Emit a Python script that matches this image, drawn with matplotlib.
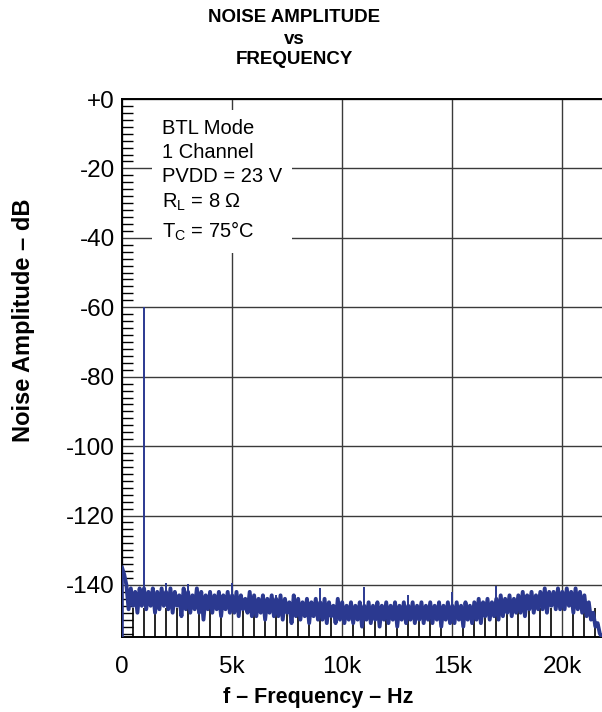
import numpy as np
import matplotlib.pyplot as plt
from matplotlib.ticker import MultipleLocator

plt.rcParams['font.family'] = ['Liberation Sans', 'DejaVu Sans']
plt.rcParams['mathtext.default'] = 'regular'

# noise floor, one value every 100 Hz from 0 to 21.8 kHz
noise_db = [
    -135, -137, -140, -147, -141, -146, -142, -148, -141, -146,
    -141, -147, -142, -146, -141, -148, -142, -147, -141, -146,
    -142, -147, -141, -148, -142, -146, -143, -149, -141, -147,
    -142, -148, -143, -147, -141, -148, -142, -150, -143, -147,
    -142, -148, -143, -147, -142, -149, -143, -147, -142, -148,
    -143, -148, -142, -149, -143, -147, -144, -148, -142, -149,
    -143, -149, -144, -148, -143, -150, -144, -148, -143, -149,
    -144, -149, -143, -150, -144, -148, -145, -151, -143, -149,
    -144, -150, -145, -149, -144, -151, -145, -149, -144, -150,
    -145, -150, -144, -151, -145, -149, -146, -151, -144, -150,
    -145, -151, -146, -150, -145, -151, -146, -150, -145, -152,
    -146, -150, -145, -151, -146, -150, -145, -152, -146, -150,
    -145, -151, -146, -150, -145, -152, -146, -150, -145, -151,
    -146, -150, -145, -151, -146, -150, -145, -151, -146, -150,
    -145, -151, -146, -150, -145, -152, -146, -150, -145, -151,
    -146, -151, -145, -150, -146, -152, -145, -150, -146, -151,
    -145, -150, -144, -151, -145, -149, -144, -150, -145, -149,
    -144, -150, -143, -149, -144, -148, -143, -149, -144, -148,
    -143, -148, -142, -149, -143, -147, -142, -148, -143, -147,
    -142, -147, -141, -148, -142, -146, -142, -147, -141, -147,
    -142, -147, -141, -146, -142, -148, -141, -147, -142, -148,
    -143, -149, -145, -150, -148, -152, -151, -154, -155,
]
noise_freq = np.arange(len(noise_db)) * 100

# tones / spurs sticking out of the floor
spike_freq = [1000, 2000, 3000, 5000, 7000, 9000, 11000, 13000, 15000, 17000, 19000]
spike_db = [-60, -139.5, -139.7, -139.5, -143, -141, -140.5, -143, -142, -140.3, -142]

xticks = [0, 5000, 10000, 15000, 20000]
xlabels = ['0', '5k', '10k', '15k', '20k']
yticks = [0, -20, -40, -60, -80, -100, -120, -140]
ylabels = ['+0', '-20', '-40', '-60', '-80', '-100', '-120', '-140']

blue = '#2b3990'

fig = plt.figure(figsize=(6.02, 7.12), dpi=100)
ax = fig.add_axes([122 / 602, 1 - 637 / 712, 480 / 602, 538 / 712])

ax.plot(noise_freq, noise_db, color=blue, lw=2.8, zorder=3)
base = [noise_db[f // 100] for f in spike_freq]
ax.vlines(spike_freq, base, spike_db, color=blue, lw=1.4, zorder=3)
ax.vlines([0], [-155], [noise_db[0]], color=blue, lw=1.8, zorder=3)

ax.set_xlim(0, 21800)
ax.set_ylim(-155, 0)
ax.set_xticks(xticks)
ax.set_xticklabels(xlabels)
ax.set_yticks(yticks)
ax.set_yticklabels(ylabels)
ax.xaxis.set_minor_locator(MultipleLocator(500))
ax.yaxis.set_minor_locator(MultipleLocator(2))
ax.tick_params(which='major', length=0, labelsize=17.5)
ax.tick_params(axis='x', which='major', pad=14)
ax.tick_params(axis='y', which='major', pad=5)
ax.tick_params(axis='x', which='minor', direction='in', length=21, width=1.2, color='black')
ax.tick_params(axis='y', which='minor', direction='in', length=8, width=1.0, color='black')
ax.grid(True, which='major', color='#3a3a3a', lw=1.0)
ax.spines['right'].set_visible(False)
for s in ['left', 'bottom', 'top']:
    ax.spines[s].set_linewidth(1.4)

ax.text(40 / 480, 1 - 20 / 538,
        'BTL Mode\n1 Channel\nPVDD = 23 V\nR$_L$ = 8 \u03a9\nT$_C$ = 75\u00b0C',
        transform=ax.transAxes, ha='left', va='top', fontsize=14.5, linespacing=1.35,
        zorder=4, bbox=dict(boxstyle='square,pad=0.5', facecolor='white', edgecolor='none'))

fig.text(294 / 602, 1 - 18 / 712, 'NOISE AMPLITUDE', ha='center', va='center',
         fontsize=13.5, fontweight='bold')
fig.text(294 / 602, 1 - 39 / 712, 'vs', ha='center', va='center',
         fontsize=13.5, fontweight='bold')
fig.text(294 / 602, 1 - 60 / 712, 'FREQUENCY', ha='center', va='center',
         fontsize=13.5, fontweight='bold')
fig.text(318 / 602, 1 - 697 / 712, 'f \u2013 Frequency \u2013 Hz', ha='center', va='center',
         fontsize=15.5, fontweight='bold')
fig.text(24 / 602, 1 - 320 / 712, 'Noise Amplitude \u2013 dB', ha='center', va='center',
         rotation=90, fontsize=17, fontweight='bold')

fig.savefig('out.png', dpi=100)
